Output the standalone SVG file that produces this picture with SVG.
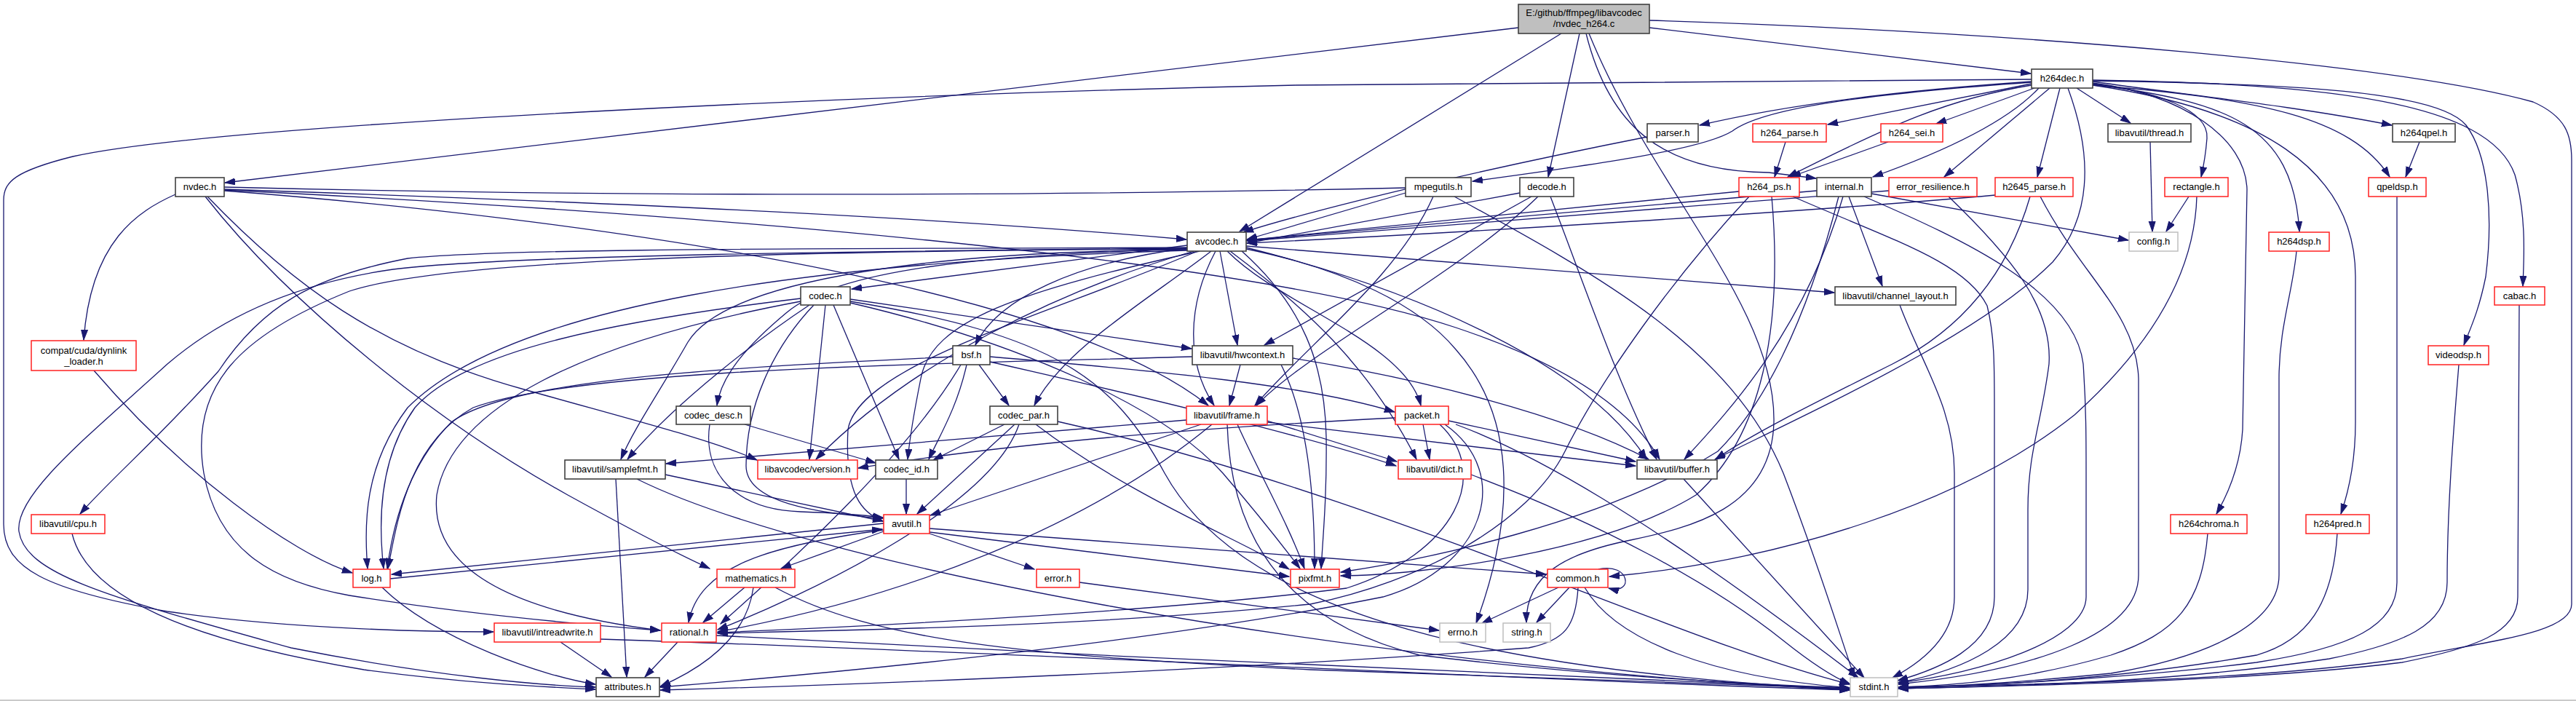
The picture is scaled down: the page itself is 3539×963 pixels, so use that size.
<svg xmlns="http://www.w3.org/2000/svg" width="3539" height="963" viewBox="0 0 3539 963">
<style>
.bg{fill:#fff}
.edges path{fill:none;stroke:#191970;stroke-width:1.3;marker-end:url(#a)}
.edges path.nm{marker-end:none}
.node rect{fill:#fff;stroke:#404040;stroke-width:1.6}
.node.red rect{stroke:#ff2020;stroke-width:1.5}
.node.gray rect{stroke:#bfbfbf;stroke-width:1.5}
.node.main rect{fill:#bfbfbf}
.node text{font-family:"Liberation Sans",Arial,Helvetica,sans-serif;font-size:13px;text-anchor:middle;fill:#000}
</style>
<defs>
<marker id="a" markerUnits="userSpaceOnUse" markerWidth="15" markerHeight="11" refX="14" refY="5" orient="auto">
<path d="M0,0.5 L14,5 L0,9.5 z" fill="#191970" stroke="#191970" stroke-width="1"/>
</marker>
</defs>
<rect class="bg" x="0" y="0" width="3539" height="963"/>
<line x1="0" y1="962" x2="3539" y2="962" stroke="#b8b8b8" stroke-width="1.5"/>
<g id="edges" class="edges">
<path d="M2086,38 L309,251"/>
<path d="M2266,38 L2790,101"/>
<path d="M2145,46 L1703,318"/>
<path d="M2170,46 L2127,243"/>
<path d="M2179,46 C2210,170 2280,236 2430,237 L2495,245"/>
<path d="M2183,46 C2270,260 2440,420 2437,580 C2434,700 2320,725 2240,742 C2150,760 2096,790 2097,855"/>
<path d="M2266,28 C2800,45 3300,90 3480,140 C3525,160 3533,185 3533,220 L3533,830 C3533,870 3420,880 3300,905 C3100,935 2800,940 2608,944"/>
<path d="M2791,109 L1780,117 C1200,130 300,170 100,215 C20,235 5,250 5,275 L5,720 C5,780 60,810 230,840 C400,865 600,868 678,868"/>
<path d="M2791,112 C2600,125 2450,145 2335,172"/>
<path d="M2791,113 C2550,130 2420,150 2380,180 C2340,205 2200,225 2023,249"/>
<path d="M2791,115 L2511,171"/>
<path d="M2791,117 C2680,135 2600,170 2456,243"/>
<path d="M2795,121 L2660,170"/>
<path d="M2801,121 C2760,165 2680,205 2573,243"/>
<path d="M2816,121 L2671,243"/>
<path d="M2830,121 L2799,243"/>
<path d="M2841,121 C2870,200 2880,290 2820,360 C2720,460 2500,560 2356,631"/>
<path d="M2853,121 L2927,169"/>
<path d="M2875,112 C3000,130 3150,145 3286,172"/>
<path d="M2875,115 C2960,125 3035,150 3032,190 C3030,215 3027,230 3024,243"/>
<path d="M2875,117 C3100,135 3230,160 3283,243"/>
<path d="M2875,114 C3000,130 3085,190 3087,260 L3081,590 C3078,640 3060,680 3045,706"/>
<path d="M2875,116 C3060,140 3150,170 3159,318"/>
<path d="M2875,117 C3100,150 3236,230 3236,380 L3236,580 C3236,640 3225,680 3216,706"/>
<path d="M2875,111 C3150,115 3350,125 3388,172 C3420,215 3425,300 3415,380 C3405,430 3392,455 3385,474"/>
<path d="M2875,110 C3200,115 3420,140 3455,240 C3472,300 3467,360 3466,393"/>
<path d="M241,267 C190,290 125,330 115,467"/>
<path d="M308,260 C900,280 1300,300 1630,329"/>
<path d="M308,262 C800,300 1450,390 1660,557"/>
<path d="M308,261 C900,290 1700,350 2000,450 C2150,500 2240,560 2280,631"/>
<path d="M285,270 C400,390 520,480 720,535 C880,580 980,605 1040,632"/>
<path d="M282,270 C400,420 600,580 780,680 C880,735 940,765 975,781"/>
<path class="nm" d="M308,257 C900,272 1500,268 1931,258"/>
<path d="M1631,337 L1170,397"/>
<path d="M1631,341 C1480,360 1370,410 1340,474"/>
<path d="M1676,345 L1700,474"/>
<path d="M1664,345 C1580,410 1460,480 1421,557"/>
<path d="M1670,345 C1630,420 1630,500 1668,557"/>
<path d="M1686,345 C1760,420 1930,470 1952,557"/>
<path d="M1631,342 C1350,350 1150,370 1080,430 C1020,480 990,520 985,557"/>
<path d="M1631,343 C1300,345 1000,380 945,470 C905,540 870,590 853,631"/>
<path d="M1640,345 C1450,400 1250,500 1121,631"/>
<path d="M1648,345 C1400,400 1280,440 1265,520 C1255,570 1250,600 1247,631"/>
<path d="M1690,345 C1790,420 1880,500 1946,631"/>
<path d="M1712,340 C1950,400 2180,500 2262,631"/>
<path d="M1631,344 C1100,360 700,420 560,560 C500,640 500,720 505,781"/>
<path d="M1631,340 C1200,342 700,340 560,355 C430,380 360,420 300,510 C220,600 150,660 110,706"/>
<path d="M1631,341 C1200,345 700,350 540,370 C400,390 300,440 230,500 C120,600 20,680 26,730 C35,790 150,820 400,890 C600,930 750,942 818,944"/>
<path d="M1631,342 C1000,345 600,360 480,400 C330,460 260,530 280,650 C300,760 380,800 480,818 C650,845 800,858 907,866"/>
<path d="M1706,345 C1790,420 1820,500 1822,600 C1823,680 1818,730 1815,781"/>
<path d="M1712,338 L2520,402"/>
<path d="M1712,342 C1850,370 1950,420 2000,480 C2080,570 2085,700 2028,856"/>
<path d="M1645,345 C1450,430 1180,500 1165,590 C1160,680 1185,705 1213,716"/>
<path d="M1168,411 L1637,479"/>
<path d="M1168,414 C1450,460 1530,520 1600,650 C1700,830 2000,920 2541,947"/>
<path d="M1168,416 C1400,470 1600,560 1680,650 C1740,720 1770,760 1786,781"/>
<path d="M1118,419 C1060,480 1025,560 1025,640 C1025,690 1120,705 1213,712"/>
<path d="M1100,410 C850,440 640,480 570,560 C520,630 520,720 527,781"/>
<path d="M1100,414 C800,470 620,560 600,680 C590,780 700,840 907,866"/>
<path d="M1112,419 C1050,460 930,550 862,631"/>
<path d="M1145,419 L1235,631"/>
<path d="M1134,419 L1112,631"/>
<path d="M1345,501 L1386,557"/>
<path d="M1328,501 C1315,560 1290,600 1276,631"/>
<path d="M1360,490 C1600,510 1800,530 1916,566"/>
<path d="M1360,497 C1550,540 1800,600 1918,640"/>
<path d="M1309,490 C1000,505 700,520 620,580 C560,640 540,720 532,781"/>
<path d="M1320,501 C1250,620 1100,760 990,857"/>
<path d="M1704,501 L1689,557"/>
<path d="M1760,501 C1790,560 1806,650 1806,781"/>
<path d="M1776,492 C1950,520 2150,570 2265,631"/>
<path d="M1638,490 C1300,500 800,505 650,560 C560,610 545,720 533,781"/>
<path d="M975,583 C965,650 1010,700 1100,703 C1160,705 1190,708 1213,711"/>
<path d="M1023,583 L1203,636"/>
<path d="M1380,583 L1282,632"/>
<path d="M1394,583 L1260,706"/>
<path d="M1400,583 C1360,700 1100,820 986,865"/>
<path d="M1423,583 C1550,680 1700,740 1771,782"/>
<path d="M1453,579 C1900,680 2300,880 2541,940"/>
<path d="M1630,577 L915,637"/>
<path d="M1650,583 L1278,708"/>
<path d="M1665,583 C1500,720 1250,820 986,868"/>
<path d="M1686,583 C1690,720 1750,850 1950,900 C2200,930 2400,940 2541,945"/>
<path d="M1700,583 C1730,650 1770,720 1792,781"/>
<path d="M1741,578 L1919,634"/>
<path d="M1741,580 L2247,640"/>
<path d="M1955,583 L1964,631"/>
<path d="M1990,578 L2247,634"/>
<path d="M1917,574 C1600,590 1350,615 1179,643"/>
<path d="M1978,583 C2050,650 2000,760 1850,808 C1600,840 1200,860 986,869"/>
<path d="M1985,583 C2080,650 2040,780 1900,820 C1600,880 1200,920 907,944"/>
<path d="M2000,583 C2100,620 2250,700 2553,931"/>
<path d="M2021,652 C2200,720 2350,800 2450,880 C2500,920 2530,935 2542,940"/>
<path d="M2313,658 L2561,931"/>
<path d="M846,658 L861,930"/>
<path d="M914,652 L1213,716"/>
<path d="M875,658 C1100,770 1800,910 2541,948"/>
<path d="M1245,658 L1245,706"/>
<path d="M1214,730 L1073,781"/>
<path d="M1214,728 C1050,750 960,780 946,855"/>
<path d="M1277,733 L1421,782"/>
<path d="M1277,731 L1771,792"/>
<path d="M1277,726 L2124,789"/>
<path d="M1214,719 L538,789"/>
<path d="M536,795 L1212,727"/>
<path d="M525,807 C600,880 750,930 818,940"/>
<path d="M1023,807 L966,855"/>
<path d="M1035,807 C1025,880 960,920 907,943"/>
<path d="M1065,807 C1200,880 1400,900 1800,920 C2200,935 2400,940 2541,946"/>
<path d="M1483,800 L1977,866"/>
<path d="M931,882 L886,930"/>
<path d="M984,873 C1500,900 2100,930 2541,946"/>
<path d="M99,733 C120,820 260,880 500,920 C650,940 760,944 818,947"/>
<path d="M129,509 C250,650 400,760 484,787"/>
<path d="M770,882 L840,930"/>
<path d="M825,878 C1500,900 2100,935 2541,948"/>
<path d="M2141,807 L2036,856"/>
<path d="M2156,807 L2111,855"/>
<path d="M2177,807 C2220,880 2350,930 2541,945"/>
<path d="M2168,807 C2165,860 2150,880 2100,890 C1700,920 1200,940 907,948"/>
<path d="M2196,782 C2240,772 2245,818 2210,808"/>
<path d="M3018,270 C3015,380 2950,480 2850,570 C2700,690 2450,770 2211,792"/>
<path d="M3007,270 L2976,318"/>
<path d="M2954,195 L2957,318"/>
<path d="M2571,266 L2924,330"/>
<path d="M2496,262 L1713,330"/>
<path d="M2540,270 L2586,393"/>
<path d="M2532,270 C2480,450 2380,560 2314,631"/>
<path d="M2526,270 C2480,450 2420,560 2360,620 C2200,720 1950,770 1842,786"/>
<path d="M2561,270 C2700,330 2850,400 2862,500 C2866,560 2866,600 2866,650 L2866,820 C2866,880 2720,925 2607,938"/>
<path d="M3324,195 L3305,243"/>
<path d="M3293,270 L3293,800 C3293,860 3230,890 3100,910 C2900,935 2700,942 2608,945"/>
<path d="M3155,345 C3150,400 3131,450 3131,520 L3131,790 C3131,850 3050,900 2900,925 C2750,940 2650,944 2608,944"/>
<path d="M3461,419 L3459,820 C3459,870 3400,890 3300,910 C3100,935 2800,942 2608,946"/>
<path d="M3378,501 C3370,600 3362,700 3362,800 C3362,860 3300,885 3200,905 C3000,935 2800,942 2608,946"/>
<path d="M3033,733 C3025,830 2990,870 2900,900 C2780,935 2680,942 2608,944"/>
<path d="M3211,733 C3205,830 3170,880 3100,900 C2900,935 2700,944 2608,944"/>
<path d="M2677,270 C2760,350 2820,420 2815,500 C2805,580 2786,620 2786,700 L2786,810 C2786,880 2700,920 2608,938"/>
<path d="M2595,262 L1713,331"/>
<path d="M2741,268 C2500,290 2000,320 1713,334"/>
<path d="M2789,270 C2760,370 2700,450 2600,500 C2480,560 2400,600 2357,631"/>
<path d="M2803,270 C2860,380 2935,430 2938,520 L2938,790 C2938,870 2800,920 2608,940"/>
<path d="M2610,419 C2640,500 2685,560 2685,650 L2685,820 C2685,880 2630,915 2600,931"/>
<path d="M2389,263 L1713,330"/>
<path d="M2403,270 C2300,380 2200,520 2150,620 C2100,720 1950,800 1800,830 C1500,860 1200,865 986,870"/>
<path d="M2434,270 C2450,450 2420,600 2330,680 C2200,760 1950,790 1842,791"/>
<path d="M2463,270 C2600,330 2700,360 2730,420 C2740,460 2740,500 2740,560 L2740,820 C2740,890 2660,920 2607,935"/>
<path d="M2263,188 C2000,240 1800,290 1708,319"/>
<path d="M1931,265 L1713,329"/>
<path d="M1969,270 C1920,380 1800,470 1724,557"/>
<path d="M1998,270 C2200,380 2380,480 2450,650 C2500,780 2530,880 2548,931"/>
<path d="M2088,265 L1713,334"/>
<path d="M2104,270 L1737,474"/>
<path d="M2113,270 C2000,380 1800,480 1726,557"/>
<path d="M2130,270 C2180,400 2220,520 2276,631"/>
<path d="M2453,195 L2438,243"/>
<path d="M2594,195 L2460,243"/>
</g>
<g id="n-main" class="node main"><rect x="2086" y="6" width="180" height="40"/><text x="2176" y="22">E:/github/ffmpeg/libavcodec</text><text x="2176" y="37">/nvdec_h264.c</text></g>
<g id="n-h264dec" class="node"><rect x="2791" y="95" width="84" height="26"/><text x="2833" y="112">h264dec.h</text></g>
<g id="n-parser" class="node"><rect x="2263" y="170" width="70" height="25"/><text x="2298" y="187">parser.h</text></g>
<g id="n-h264_parse" class="node red"><rect x="2408" y="170" width="101" height="25"/><text x="2458.5" y="187">h264_parse.h</text></g>
<g id="n-h264_sei" class="node red"><rect x="2584" y="170" width="85" height="25"/><text x="2626.5" y="187">h264_sei.h</text></g>
<g id="n-thread" class="node"><rect x="2896" y="170" width="114" height="25"/><text x="2953" y="187">libavutil/thread.h</text></g>
<g id="n-h264qpel" class="node"><rect x="3287" y="170" width="86" height="25"/><text x="3330" y="187">h264qpel.h</text></g>
<g id="n-nvdec" class="node"><rect x="241" y="244" width="67" height="26"/><text x="274.5" y="261">nvdec.h</text></g>
<g id="n-mpegutils" class="node"><rect x="1931" y="244" width="90" height="26"/><text x="1976" y="261">mpegutils.h</text></g>
<g id="n-decode" class="node"><rect x="2088" y="244" width="74" height="26"/><text x="2125" y="261">decode.h</text></g>
<g id="n-h264_ps" class="node red"><rect x="2389" y="244" width="83" height="26"/><text x="2430.5" y="261">h264_ps.h</text></g>
<g id="n-internal" class="node"><rect x="2496" y="244" width="75" height="26"/><text x="2533.5" y="261">internal.h</text></g>
<g id="n-error_resilience" class="node red"><rect x="2595" y="244" width="121" height="26"/><text x="2655.5" y="261">error_resilience.h</text></g>
<g id="n-h2645_parse" class="node red"><rect x="2741" y="244" width="107" height="26"/><text x="2794.5" y="261">h2645_parse.h</text></g>
<g id="n-rectangle" class="node red"><rect x="2974" y="244" width="87" height="26"/><text x="3017.5" y="261">rectangle.h</text></g>
<g id="n-qpeldsp" class="node red"><rect x="3254" y="244" width="79" height="26"/><text x="3293.5" y="261">qpeldsp.h</text></g>
<g id="n-avcodec" class="node"><rect x="1631" y="319" width="81" height="26"/><text x="1671.5" y="336">avcodec.h</text></g>
<g id="n-config" class="node gray"><rect x="2925" y="319" width="67" height="26"/><text x="2958.5" y="336">config.h</text></g>
<g id="n-h264dsp" class="node red"><rect x="3117" y="319" width="83" height="26"/><text x="3158.5" y="336">h264dsp.h</text></g>
<g id="n-codec" class="node"><rect x="1100" y="394" width="68" height="25"/><text x="1134" y="411">codec.h</text></g>
<g id="n-channel_layout" class="node"><rect x="2521" y="394" width="166" height="25"/><text x="2604" y="411">libavutil/channel_layout.h</text></g>
<g id="n-cabac" class="node red"><rect x="3427" y="394" width="69" height="25"/><text x="3461.5" y="411">cabac.h</text></g>
<g id="n-dynlink_loader" class="node red"><rect x="43" y="468" width="144" height="41"/><text x="115" y="486">compat/cuda/dynlink</text><text x="115" y="501">_loader.h</text></g>
<g id="n-bsf" class="node"><rect x="1309" y="475" width="51" height="26"/><text x="1334.5" y="492">bsf.h</text></g>
<g id="n-hwcontext" class="node"><rect x="1638" y="475" width="138" height="26"/><text x="1707" y="492">libavutil/hwcontext.h</text></g>
<g id="n-videodsp" class="node red"><rect x="3336" y="475" width="83" height="26"/><text x="3377.5" y="492">videodsp.h</text></g>
<g id="n-codec_desc" class="node"><rect x="929" y="558" width="102" height="25"/><text x="980" y="575">codec_desc.h</text></g>
<g id="n-codec_par" class="node"><rect x="1360" y="558" width="93" height="25"/><text x="1406.5" y="575">codec_par.h</text></g>
<g id="n-frame" class="node red"><rect x="1630" y="558" width="111" height="25"/><text x="1685.5" y="575">libavutil/frame.h</text></g>
<g id="n-packet" class="node red"><rect x="1917" y="558" width="73" height="25"/><text x="1953.5" y="575">packet.h</text></g>
<g id="n-samplefmt" class="node"><rect x="776" y="632" width="138" height="26"/><text x="845" y="649">libavutil/samplefmt.h</text></g>
<g id="n-version" class="node red"><rect x="1041" y="632" width="137" height="26"/><text x="1109.5" y="649">libavcodec/version.h</text></g>
<g id="n-codec_id" class="node"><rect x="1203" y="632" width="85" height="26"/><text x="1245.5" y="649">codec_id.h</text></g>
<g id="n-dict" class="node red"><rect x="1921" y="632" width="100" height="26"/><text x="1971" y="649">libavutil/dict.h</text></g>
<g id="n-buffer" class="node"><rect x="2249" y="632" width="110" height="26"/><text x="2304" y="649">libavutil/buffer.h</text></g>
<g id="n-cpu" class="node red"><rect x="43" y="707" width="101" height="26"/><text x="93.5" y="724">libavutil/cpu.h</text></g>
<g id="n-avutil" class="node red"><rect x="1214" y="707" width="63" height="26"/><text x="1245.5" y="724">avutil.h</text></g>
<g id="n-h264chroma" class="node red"><rect x="2982" y="707" width="105" height="26"/><text x="3034.5" y="724">h264chroma.h</text></g>
<g id="n-h264pred" class="node red"><rect x="3168" y="707" width="87" height="26"/><text x="3211.5" y="724">h264pred.h</text></g>
<g id="n-log" class="node red"><rect x="485" y="782" width="51" height="25"/><text x="510.5" y="799">log.h</text></g>
<g id="n-mathematics" class="node red"><rect x="985" y="782" width="107" height="25"/><text x="1038.5" y="799">mathematics.h</text></g>
<g id="n-error" class="node red"><rect x="1424" y="782" width="59" height="25"/><text x="1453.5" y="799">error.h</text></g>
<g id="n-pixfmt" class="node red"><rect x="1773" y="782" width="67" height="25"/><text x="1806.5" y="799">pixfmt.h</text></g>
<g id="n-common" class="node red"><rect x="2126" y="782" width="83" height="25"/><text x="2167.5" y="799">common.h</text></g>
<g id="n-intreadwrite" class="node red"><rect x="679" y="856" width="146" height="26"/><text x="752" y="873">libavutil/intreadwrite.h</text></g>
<g id="n-rational" class="node red"><rect x="909" y="856" width="75" height="26"/><text x="946.5" y="873">rational.h</text></g>
<g id="n-errno" class="node gray"><rect x="1978" y="856" width="63" height="26"/><text x="2009.5" y="873">errno.h</text></g>
<g id="n-string" class="node gray"><rect x="2065" y="856" width="65" height="26"/><text x="2097.5" y="873">string.h</text></g>
<g id="n-attributes" class="node"><rect x="819" y="931" width="87" height="26"/><text x="862.5" y="948">attributes.h</text></g>
<g id="n-stdint" class="node gray"><rect x="2542" y="931" width="65" height="26"/><text x="2574.5" y="948">stdint.h</text></g>
</svg>
